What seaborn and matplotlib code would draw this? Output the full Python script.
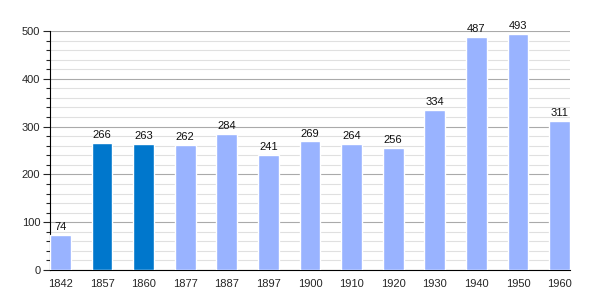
import matplotlib
matplotlib.use("Agg")
import matplotlib.pyplot as plt
import seaborn as sns
import pandas as pd
from matplotlib.ticker import MultipleLocator

years = ["1842", "1857", "1860", "1877", "1887", "1897", "1900", "1910", "1920", "1930", "1940", "1950", "1960"]
values = [74, 266, 263, 262, 284, 241, 269, 264, 256, 334, 487, 493, 311]
highlight = ["1857", "1860"]

light = "#99B3FF"
dark = "#0077CC"
colors = [dark if y in highlight else light for y in years]

sns.set_style("white")
plt.rcParams['font.family'] = ['Liberation Sans', 'DejaVu Sans']

fig = plt.figure(figsize=(6, 3), dpi=100)
ax = fig.add_axes([50/600, 30/300, 520/600, 239/300])

df = pd.DataFrame({"year": years, "value": values})
sns.barplot(data=df, x="year", y="value", hue="year", palette=colors, legend=False,
            width=0.5, ax=ax, saturation=1, zorder=3)

for i, v in enumerate(values):
    ax.text(i, v + 6, str(v), ha="center", va="bottom", fontsize=8, color="#111111", zorder=4)

ax.set_xlim(-0.25, 12.25)
ax.set_ylim(0, 500)
ax.yaxis.set_major_locator(MultipleLocator(100))
ax.yaxis.set_minor_locator(MultipleLocator(20))
ax.grid(which="major", axis="y", color="#AAAAAA", linewidth=0.8, zorder=0)
ax.grid(which="minor", axis="y", color="#E0E0E0", linewidth=0.8, zorder=0)
ax.set_axisbelow(True)
for s in ["top", "right"]:
    ax.spines[s].set_visible(False)
ax.spines["left"].set_color("black")
ax.spines["bottom"].set_color("black")
ax.spines["left"].set_linewidth(0.8)
ax.spines["bottom"].set_linewidth(0.8)
ax.tick_params(axis="y", which="major", left=True, length=5, width=0.8, labelsize=8, pad=2)
ax.tick_params(axis="y", which="minor", left=True, length=3, width=0.8)
ax.tick_params(axis="x", bottom=False, labelsize=8, pad=3)
ax.set_xlabel("")
ax.set_ylabel("")

fig.savefig("out.png", dpi=100)
